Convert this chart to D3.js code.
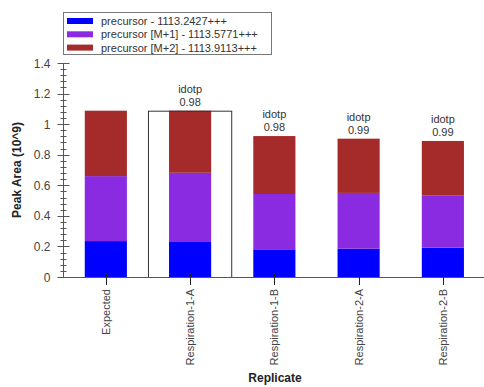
<!DOCTYPE html>
<html><head><meta charset="utf-8">
<script src="https://cdn.jsdelivr.net/npm/d3@7"></script>
<style>body{margin:0;background:#fff}svg{display:block;font-family:"Liberation Sans",Arial,sans-serif}</style>
</head><body><svg id="c" width="484" height="387"></svg>
<script>
const replicates = ["Expected","Respiration-1-A","Respiration-1-B","Respiration-2-A","Respiration-2-B"];
const seriesNames = ["precursor - 1113.2427+++","precursor [M+1] - 1113.5771+++","precursor [M+2] - 1113.9113+++"];
const seriesColors = ["#0000ff","#8a2be2","#a52a2a"];
const precursorM0 = [0.235,0.229,0.181,0.185,0.192];
const precursorM1 = [0.425,0.453,0.362,0.365,0.340];
const precursorM2 = [0.428,0.406,0.379,0.355,0.358];
const idotp = [null,"0.98","0.98","0.99","0.99"];
const selected = "Respiration-1-A";
const yTicks = [0,0.2,0.4,0.6,0.8,1,1.2,1.4];

const svg = d3.select("#c");
const x = d3.scaleBand().domain(replicates).range([63.7,485]).paddingInner(0).paddingOuter(0);
const y = d3.scaleLinear().domain([0,1.4]).range([277,63]);
const barW = x.bandwidth()*0.5;

const table = replicates.map((r,i)=>({rep:r, s0:precursorM0[i], s1:precursorM1[i], s2:precursorM2[i]}));
const stack = d3.stack().keys(["s0","s1","s2"])(table);

const g = svg.append("g");
stack.forEach((layer,k)=>{
  g.selectAll(null).data(layer).enter().append("rect")
   .attr("x",d=>x(d.data.rep)+(x.bandwidth()-barW)/2)
   .attr("width",barW)
   .attr("y",d=>y(d[1]))
   .attr("height",d=>y(d[0])-y(d[1]))
   .attr("fill",seriesColors[k]);
});
// selection box
const si = replicates.indexOf(selected);
const selTop = precursorM0[si]+precursorM1[si]+precursorM2[si];
svg.append("rect").attr("x",x(selected)+0.5).attr("y",y(selTop)+0.5)
  .attr("width",x.bandwidth()-1).attr("height",y(0)-y(selTop))
  .attr("fill","none").attr("stroke","#333").attr("stroke-width",1);

// idotp labels
table.forEach((d,i)=>{
  if(!idotp[i]) return;
  const top = y(d.s0+d.s1+d.s2);
  const cx = x(d.rep)+x.bandwidth()/2;
  svg.append("text").attr("x",cx).attr("y",top-18).attr("text-anchor","middle")
    .attr("font-size",11).attr("fill","#333").text("idotp");
  svg.append("text").attr("x",cx).attr("y",top-5).attr("text-anchor","middle")
    .attr("font-size",11).attr("fill","#333").text(idotp[i]);
});

// y axis
const axisColor="#555";
const ya = svg.append("g").attr("transform","translate(63.5,0)");
ya.append("line").attr("y1",y(1.4)).attr("y2",y(0)).attr("stroke",axisColor);
const minor = d3.range(0,1.4001,0.04).filter(v=>Math.abs(Math.round(v/0.2)*0.2-v)>1e-6);
ya.selectAll(null).data(minor).enter().append("line")
  .attr("x1",-3).attr("x2",3).attr("y1",d=>Math.round(y(d))+0.5).attr("y2",d=>Math.round(y(d))+0.5).attr("stroke",axisColor);
ya.selectAll(null).data(yTicks).enter().append("line")
  .attr("x1",-6).attr("x2",6).attr("y1",d=>Math.round(y(d))+0.5).attr("y2",d=>Math.round(y(d))+0.5).attr("stroke",axisColor);
ya.selectAll(null).data(yTicks).enter().append("text")
  .attr("x",-13).attr("y",d=>y(d)+4.5).attr("text-anchor","end")
  .attr("font-size",12).attr("fill","#444").text(d=>d3.format("~g")(d));

// x axis
const xa = svg.append("g");
xa.append("line").attr("x1",63).attr("x2",484).attr("y1",277.5).attr("y2",277.5).attr("stroke",axisColor);
xa.selectAll(null).data(replicates).enter().append("line")
  .attr("x1",d=>Math.round(x(d)+x.bandwidth()/2)+0.5).attr("x2",d=>Math.round(x(d)+x.bandwidth()/2)+0.5)
  .attr("y1",273).attr("y2",285).attr("stroke","#222");
xa.selectAll(null).data(replicates).enter().append("text")
  .attr("transform",d=>`translate(${x(d)+x.bandwidth()/2+4},289) rotate(-90)`)
  .attr("text-anchor","end").attr("font-size",11).attr("fill","#444").text(d=>d);

// titles
svg.append("text").attr("x",275).attr("y",382).attr("text-anchor","middle")
  .attr("font-size",12).attr("font-weight","bold").attr("fill","#222").text("Replicate");
svg.append("text").attr("transform","translate(21,170) rotate(-90)").attr("text-anchor","middle")
  .attr("font-size",12).attr("font-weight","bold").attr("fill","#222").text("Peak Area (10^9)");

// legend
const lg = svg.append("g");
lg.append("rect").attr("x",63.5).attr("y",12.5).attr("width",208).attr("height",42)
  .attr("fill","#fff").attr("stroke","#777");
seriesNames.forEach((n,i)=>{
  const cy = 21+i*13.3;
  lg.append("rect").attr("x",67).attr("y",cy-3).attr("width",26).attr("height",6).attr("fill",seriesColors[i]);
  lg.append("text").attr("x",101).attr("y",cy+4).attr("font-size",11).attr("fill","#333").text(n);
});
</script></body></html>
